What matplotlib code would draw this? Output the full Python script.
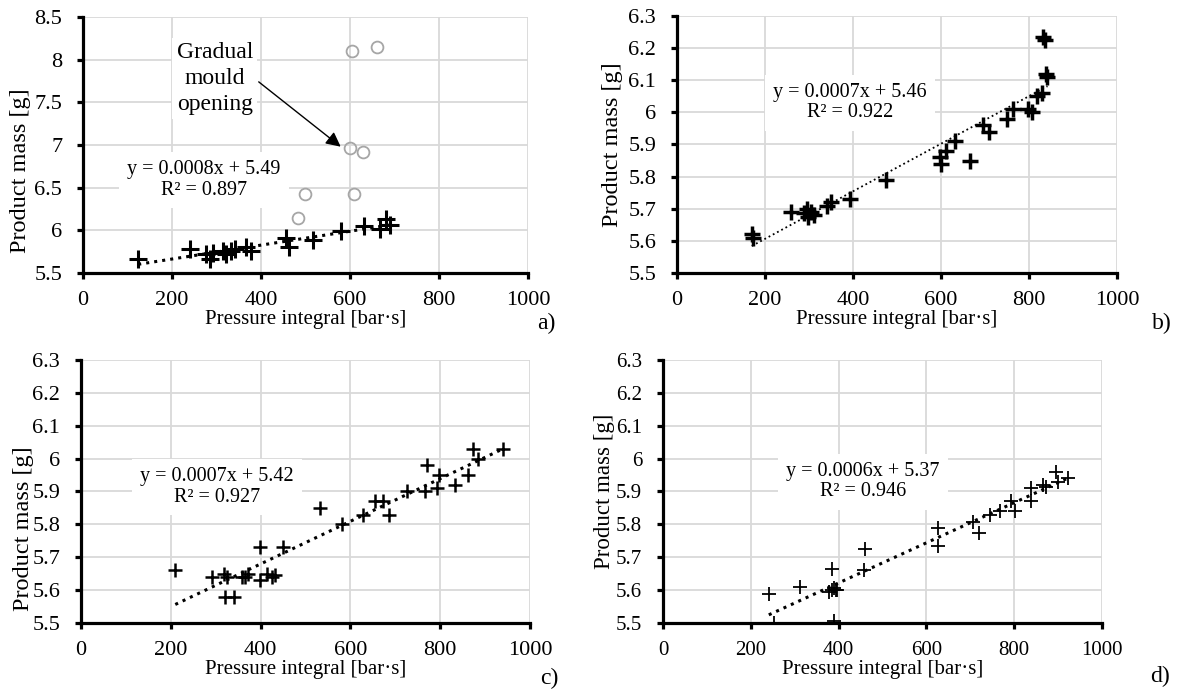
import matplotlib
matplotlib.use("Agg")
import matplotlib.pyplot as plt
import numpy as np

plt.rcParams['font.family'] = ['Liberation Serif', 'DejaVu Serif']

# panel a) - regular shots and the outliers caused by mould opening
a_x = [124, 240, 276, 285, 292, 315, 322, 333, 341, 367, 378, 457, 463, 517, 580, 631, 668, 682, 689]
a_y = [5.66, 5.78, 5.72, 5.66, 5.74, 5.76, 5.72, 5.76, 5.78, 5.81, 5.76, 5.91, 5.81, 5.89, 5.99, 6.05, 6.01, 6.13, 6.06]
a_open_x = [605, 661, 599, 629, 499, 610, 483]
a_open_y = [8.10, 8.15, 6.96, 6.92, 6.43, 6.43, 6.14]

# panel b)
b_x = [170, 172, 258, 289, 296, 304, 311, 298, 341, 349, 393, 476, 597, 599, 612, 632, 666,
       696, 710, 749, 763, 798, 806, 819, 829, 838, 842, 832, 836]
b_y = [5.62, 5.61, 5.69, 5.686, 5.70, 5.69, 5.68, 5.675, 5.71, 5.72, 5.73, 5.79, 5.86, 5.84, 5.88, 5.91, 5.85,
       5.96, 5.94, 5.98, 6.01, 6.01, 6.00, 6.05, 6.06, 6.12, 6.11, 6.235, 6.225]

# panel c)
c_x = [210, 292, 319, 325, 321, 340, 358, 366, 373, 398, 398, 414, 425, 432, 450, 533, 581, 629,
       655, 672, 687, 726, 766, 770, 792, 798, 833, 861, 874, 885, 939]
c_y = [5.66, 5.64, 5.65, 5.64, 5.58, 5.58, 5.64, 5.64, 5.65, 5.73, 5.63, 5.65, 5.64, 5.645, 5.73, 5.85, 5.80, 5.83,
       5.87, 5.87, 5.83, 5.90, 5.90, 5.98, 5.91, 5.95, 5.92, 5.95, 6.03, 6.00, 6.03]

# panel d)
d_x = [241, 252, 311, 385, 378, 384, 389, 393, 397, 389, 457, 461, 627, 627, 707, 720, 745, 767,
       792, 801, 839, 839, 866, 873, 896, 900, 923]
d_y = [5.587, 5.50, 5.61, 5.665, 5.595, 5.60, 5.605, 5.60, 5.60, 5.505, 5.66, 5.725, 5.79, 5.735, 5.806, 5.775, 5.83, 5.84,
       5.87, 5.84, 5.91, 5.87, 5.92, 5.915, 5.96, 5.93, 5.94]

equations = ["y = 0.0008x + 5.49\nR² = 0.897",
             "y = 0.0007x + 5.46\nR² = 0.922",
             "y = 0.0007x + 5.42\nR² = 0.927",
             "y = 0.0006x + 5.37\nR² = 0.946"]
letters = ["a)", "b)", "c)", "d)"]
x_ticks = [0, 200, 400, 600, 800, 1000]
a_yticks = [5.5, 6, 6.5, 7, 7.5, 8, 8.5]
bcd_yticks = [5.5, 5.6, 5.7, 5.8, 5.9, 6, 6.1, 6.2, 6.3]

W, H = 1182, 691


def px_axes(fig, left, top, right, bottom):
    return fig.add_axes([left / W, 1 - bottom / H, (right - left) / W, (bottom - top) / H])


def style_axes(ax, yticks, fs=16, label_fs=17.5):
    ax.set_xlim(0, 1000)
    ax.set_ylim(yticks[0], yticks[-1])
    ax.set_xticks(x_ticks)
    ax.set_yticks(yticks)
    ax.set_yticklabels([f"{t:g}" for t in yticks])
    ax.grid(True, color='#d9d9d9', lw=1.3)
    ax.set_axisbelow(True)
    for s in ['top', 'right']:
        ax.spines[s].set_visible(False)
    for s in ['left', 'bottom']:
        ax.spines[s].set_linewidth(2.3)
        ax.spines[s].set_zorder(5)
    ax.tick_params(direction='out', length=4, width=2.3, labelsize=fs)
    ax.tick_params(axis='x', pad=9)
    ax.tick_params(axis='y', pad=11)
    ax.set_xlabel("Pressure integral [bar·s]", fontsize=15, labelpad=0)
    ax.set_ylabel("Product mass [g]", fontsize=label_fs)


def trend(ax, x, y, lw):
    k, q = np.polyfit(x, y, 1)
    xs = np.array([min(x), max(x)])
    ax.plot(xs, k * xs + q, color='black', ls=':', lw=lw, zorder=3)


fig = plt.figure(figsize=(W / 100, H / 100), dpi=100)

ax_a = px_axes(fig, 83, 17, 528, 273)
ax_b = px_axes(fig, 677, 16, 1117, 273)
ax_c = px_axes(fig, 81, 360, 530, 623)
ax_d = px_axes(fig, 663, 360, 1102, 623)

style_axes(ax_a, a_yticks)
style_axes(ax_b, bcd_yticks)
style_axes(ax_c, bcd_yticks)
style_axes(ax_d, bcd_yticks, fs=15, label_fs=16.5)

# a)
ax_a.plot(a_open_x, a_open_y, 'o', ms=8.5, mfc='none', mec='#a6a6a6', mew=1.3, zorder=4)
ax_a.plot(a_x, a_y, '+', ms=12.5, mew=2.2, color='black', zorder=4)
trend(ax_a, a_x, a_y, 2.2)
ax_a.text(296, 7.78, "Gradual\nmould\nopening", fontsize=17, ha='center', va='center',
          linespacing=1.3, bbox=dict(fc='white', ec='none', pad=3), zorder=6)
ax_a.annotate("", xy=(584, 6.96), xytext=(390, 7.76),
              arrowprops=dict(arrowstyle='-|>', color='black', lw=1.0, mutation_scale=22), zorder=6)
ax_a.yaxis.set_label_coords(-0.117, 0.40)

# b)
ax_b.plot(b_x, b_y, '+', ms=11, mew=2.5, color='black', zorder=4)
trend(ax_b, b_x, b_y, 1.3)
ax_b.yaxis.set_label_coords(-0.123, 0.5)

# c)
ax_c.plot(c_x, c_y, '+', ms=10.5, mew=1.8, color='black', zorder=4)
trend(ax_c, c_x, c_y, 2.2)
ax_c.yaxis.set_label_coords(-0.105, 0.357)

# d)
ax_d.plot(d_x, d_y, '+', ms=9.5, mew=1.3, color='black', zorder=4)
trend(ax_d, d_x, d_y, 2.2)
ax_d.yaxis.set_label_coords(-0.11, 0.5)

eq_pos = [(272, 6.59), (393, 6.03), (303, 5.914), (456, 5.93)]
for ax, eq, (ex, ey) in zip([ax_a, ax_b, ax_c, ax_d], equations, eq_pos):
    ax.text(ex, ey, eq, fontsize=14.5, ha='center', va='center', linespacing=1.1,
            bbox=dict(fc='white', ec='none', pad=6), zorder=6)

letter_pos = [(546, 323), (1162, 323), (549, 678), (1160, 676)]
for lt, (lx, ly) in zip(letters, letter_pos):
    fig.text(lx / W, 1 - ly / H, lt, fontsize=17, ha='center', va='center')

fig.savefig("out.png", dpi=100)
